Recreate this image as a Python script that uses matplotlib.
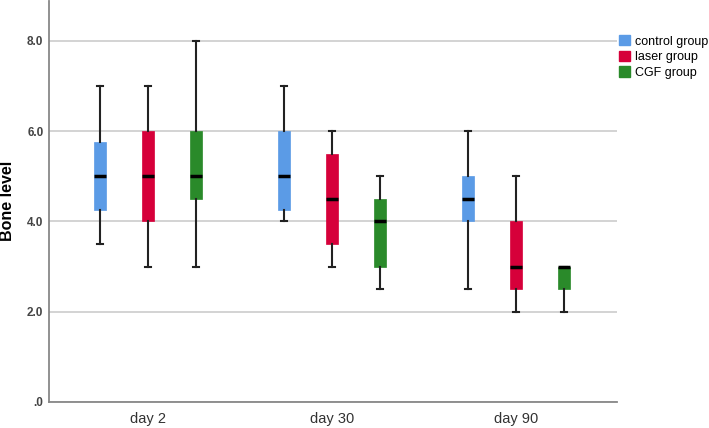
import matplotlib
matplotlib.use("Agg")
import matplotlib.pyplot as plt
from matplotlib.patches import Patch

plt.rcParams['font.family'] = ['Liberation Sans', 'DejaVu Sans']

# donnees
jours = ['day 2', 'day 30', 'day 90']
groupes = ['control group', 'laser group', 'CGF group']
couleurs = ['#5b9be6', '#d6003a', '#2a8a2a']

# pour chaque groupe : une valeur par jour
whis_bas = {
    'control group': [3.5, 4.0, 2.5],
    'laser group':   [3.0, 3.0, 2.0],
    'CGF group':     [3.0, 2.5, 2.0],
}
q1 = {
    'control group': [4.25, 4.25, 4.0],
    'laser group':   [4.0, 3.5, 2.5],
    'CGF group':     [4.5, 3.0, 2.5],
}
mediane = {
    'control group': [5.0, 5.0, 4.5],
    'laser group':   [5.0, 4.5, 3.0],
    'CGF group':     [5.0, 4.0, 3.0],
}
q3 = {
    'control group': [5.75, 6.0, 5.0],
    'laser group':   [6.0, 5.5, 4.0],
    'CGF group':     [6.0, 4.5, 3.0],
}
whis_haut = {
    'control group': [7.0, 7.0, 6.0],
    'laser group':   [7.0, 6.0, 5.0],
    'CGF group':     [8.0, 5.0, 3.0],
}

fig = plt.figure(figsize=(7.09, 4.28), dpi=100)
ax = fig.add_axes([49 / 709, 26 / 428, (617 - 49) / 709, (402 - 1) / 428])

decalage = 0.26
largeur = 0.068

for g, nom in enumerate(groupes):
    stats = []
    positions = []
    for j in range(len(jours)):
        stats.append({
            'whislo': whis_bas[nom][j], 'q1': q1[nom][j], 'med': mediane[nom][j],
            'q3': q3[nom][j], 'whishi': whis_haut[nom][j], 'fliers': [],
        })
        positions.append(j + (g - 1) * decalage)
    ax.bxp(stats, positions=positions, widths=largeur, patch_artist=True,
           showfliers=False,
           boxprops=dict(facecolor=couleurs[g], edgecolor=couleurs[g], linewidth=0.5),
           medianprops=dict(color='black', linewidth=2.5, solid_capstyle='butt'),
           whiskerprops=dict(color='#222222', linewidth=1.5),
           capprops=dict(color='#222222', linewidth=1.5),
           capwidths=0.03, zorder=3)

ax.set_xlim(-0.538, 2.549)
ax.set_ylim(0, 8.88)
ax.set_xticks(range(len(jours)))
ax.set_xticklabels(jours, fontsize=10.5, color='#333333')
ax.set_yticks([0, 2, 4, 6, 8])
ax.set_yticklabels(['.0', '2.0', '4.0', '6.0', '8.0'], fontsize=8.5,
                   fontweight='bold', color='#444444')
ax.tick_params(axis='both', length=0, pad=4)
ax.tick_params(axis='x', pad=7)

ax.grid(axis='y', color='#cccccc', linewidth=1.2, zorder=0)
ax.set_axisbelow(True)
for cote in ['top', 'right']:
    ax.spines[cote].set_visible(False)
for cote in ['left', 'bottom']:
    ax.spines[cote].set_color('#888888')
    ax.spines[cote].set_linewidth(1.3)

# titre de l'axe y place a la main
fig.text(8 / 709, 1 - 201 / 428, 'Bone level', rotation=90, fontsize=11.5,
         fontweight='bold', ha='center', va='center')

poignees = [Patch(facecolor=c, edgecolor=c) for c in couleurs]
fig.legend(poignees, groupes, loc='upper left', bbox_to_anchor=(614 / 709, 1 - 30 / 428),
           frameon=False, fontsize=9, handlelength=0.9, handleheight=0.9,
           handletextpad=0.4, labelspacing=0.25, borderaxespad=0)

fig.savefig('out.png', dpi=100)
